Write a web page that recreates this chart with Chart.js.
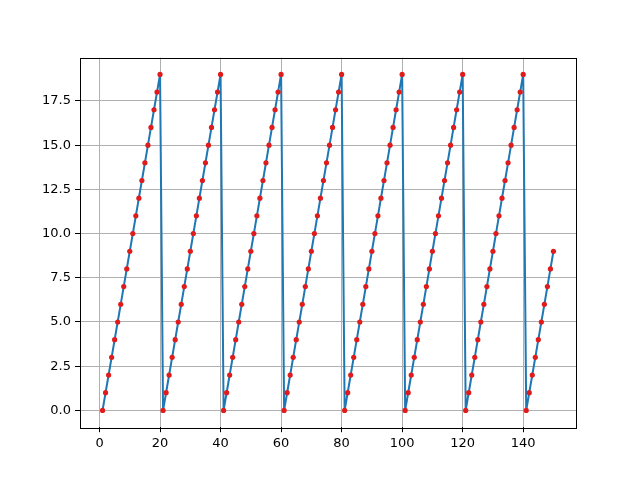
<!DOCTYPE html>
<html>
<head>
<meta charset="utf-8">
<script src="https://cdn.jsdelivr.net/npm/chart.js@4/dist/chart.umd.min.js"></script>
<style>
  html, body { margin: 0; padding: 0; background: #fff; }
  #wrap { width: 640px; height: 480px; }
</style>
</head>
<body>
<div id="wrap"><canvas id="saw" width="640" height="480"></canvas></div>
<script>
// Sample index (x) and sawtooth value (y)
const xValues = [
  1, 2, 3, 4, 5, 6, 7, 8, 9, 10, 11, 12, 13, 14, 15, 16, 17, 18, 19, 20,
  21, 22, 23, 24, 25, 26, 27, 28, 29, 30, 31, 32, 33, 34, 35, 36, 37, 38, 39, 40,
  41, 42, 43, 44, 45, 46, 47, 48, 49, 50, 51, 52, 53, 54, 55, 56, 57, 58, 59, 60,
  61, 62, 63, 64, 65, 66, 67, 68, 69, 70, 71, 72, 73, 74, 75, 76, 77, 78, 79, 80,
  81, 82, 83, 84, 85, 86, 87, 88, 89, 90, 91, 92, 93, 94, 95, 96, 97, 98, 99, 100,
  101, 102, 103, 104, 105, 106, 107, 108, 109, 110, 111, 112, 113, 114, 115, 116, 117, 118, 119, 120,
  121, 122, 123, 124, 125, 126, 127, 128, 129, 130, 131, 132, 133, 134, 135, 136, 137, 138, 139, 140,
  141, 142, 143, 144, 145, 146, 147, 148, 149, 150,
];
const yValues = [
  0, 1, 2, 3, 4, 5, 6, 7, 8, 9, 10, 11, 12, 13, 14, 15, 16, 17, 18, 19,
  0, 1, 2, 3, 4, 5, 6, 7, 8, 9, 10, 11, 12, 13, 14, 15, 16, 17, 18, 19,
  0, 1, 2, 3, 4, 5, 6, 7, 8, 9, 10, 11, 12, 13, 14, 15, 16, 17, 18, 19,
  0, 1, 2, 3, 4, 5, 6, 7, 8, 9, 10, 11, 12, 13, 14, 15, 16, 17, 18, 19,
  0, 1, 2, 3, 4, 5, 6, 7, 8, 9, 10, 11, 12, 13, 14, 15, 16, 17, 18, 19,
  0, 1, 2, 3, 4, 5, 6, 7, 8, 9, 10, 11, 12, 13, 14, 15, 16, 17, 18, 19,
  0, 1, 2, 3, 4, 5, 6, 7, 8, 9, 10, 11, 12, 13, 14, 15, 16, 17, 18, 19,
  0, 1, 2, 3, 4, 5, 6, 7, 8, 9,
];

const xTicks = [0, 20, 40, 60, 80, 100, 120, 140];
const yTicks = [0, 2.5, 5, 7.5, 10, 12.5, 15, 17.5];

const LINE_COLOR = '#1f77b4';
const DOT_COLOR = '#e01b1b';
const GRID_COLOR = '#b0b0b0';

// matplotlib-style axes box: left 80, right 576, top 57.6, bottom 427.2
const frame = {
  id: 'frame',
  afterDraw(chart) {
    const { ctx, chartArea: a } = chart;
    ctx.save();
    ctx.strokeStyle = '#000';
    ctx.lineWidth = 1;
    ctx.strokeRect(Math.round(a.left) + 0.5, Math.round(a.top) + 0.5,
      Math.round(a.right - a.left), Math.round(a.bottom - a.top));
    ctx.restore();
  },
};

const tickFont = { family: 'DejaVu Sans', size: 13 };

new Chart(document.getElementById('saw'), {
  type: 'line',
  data: {
    datasets: [{
      data: xValues.map((x, i) => ({ x, y: yValues[i] })),
      borderColor: LINE_COLOR,
      borderWidth: 2,
      tension: 0,
      pointRadius: 2.6,
      pointBackgroundColor: DOT_COLOR,
      pointBorderColor: DOT_COLOR,
      pointBorderWidth: 0,
      clip: false,
    }],
  },
  options: {
    responsive: false,
    animation: false,
    events: [],
    layout: { padding: { left: 0, right: 64, top: 57.6, bottom: 0 } },
    plugins: { legend: { display: false }, tooltip: { enabled: false } },
    scales: {
      x: {
        type: 'linear',
        min: -6.45,
        max: 157.45,
        afterBuildTicks: (s) => { s.ticks = xTicks.map((v) => ({ value: v })); },
        afterFit: (s) => { s.height = 52.8; },
        border: { display: false },
        grid: { color: GRID_COLOR, lineWidth: 1, tickColor: '#000', tickLength: 5 },
        ticks: { color: '#000', font: tickFont, padding: 4, maxRotation: 0, callback: (v) => String(v) },
      },
      y: {
        type: 'linear',
        min: -0.95,
        max: 19.95,
        afterBuildTicks: (s) => { s.ticks = yTicks.map((v) => ({ value: v })); },
        afterFit: (s) => { s.width = 80; },
        border: { display: false },
        grid: { color: GRID_COLOR, lineWidth: 1, tickColor: '#000', tickLength: 5 },
        ticks: { color: '#000', font: tickFont, padding: 4, callback: (v) => v.toFixed(1) },
      },
    },
  },
  plugins: [frame],
});
</script>
</body>
</html>
